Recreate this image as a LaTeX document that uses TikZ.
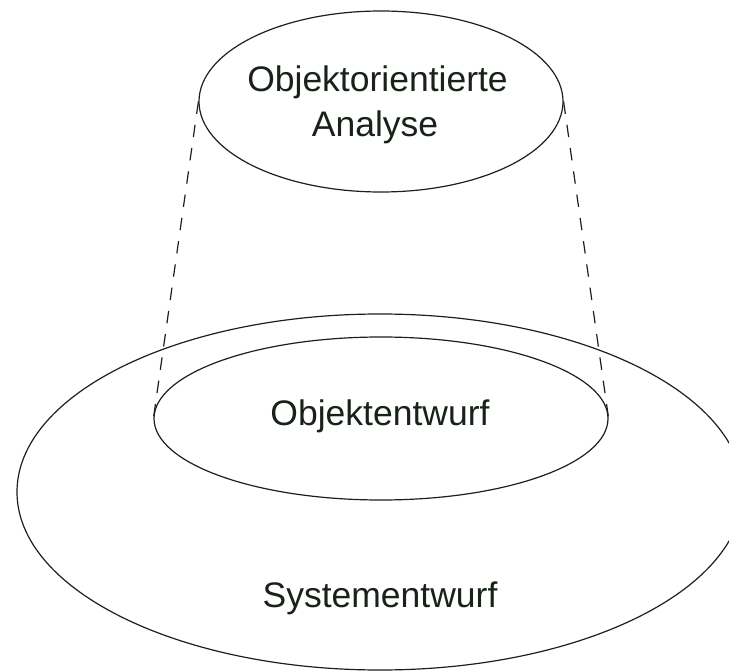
\documentclass[tikz,border=0pt]{standalone}
\usepackage{fontspec}
\setmainfont{Liberation Sans}
\usetikzlibrary{shapes.geometric}
\definecolor{ink}{RGB}{24,34,24}
\begin{document}
\begin{tikzpicture}[x=1pt,y=-1pt,
  oval/.style={draw=ink,line width=1.2pt,ellipse,inner sep=0pt},
  lbl/.style={text=ink,font=\fontsize{35.5}{45}\selectfont,anchor=base,inner sep=0pt},
  guide/.style={draw=ink,line width=1.2pt,dash pattern=on 12.5pt off 11pt}]
\useasboundingbox (0,0) rectangle (729,671);
\node[oval,minimum width=364pt,minimum height=181pt] (oa) at (381,101.5) {};
\node[oval,minimum width=726pt,minimum height=356pt] (sys) at (380,492) {};
\node[oval,minimum width=454pt,minimum height=163pt] (oe) at (381,418.5) {};
\node[lbl] (t1) at (377.5,92) {Objektorientierte};
\node[lbl] (t2) at (375,137) {Analyse};
\node[lbl] (t3) at (380,425) {Objektentwurf};
\node[lbl] (t4) at (380,607) {Systementwurf};
\draw[guide] (oa.west) -- (oe.west);
\draw[guide] (oa.east) -- (oe.east);
\end{tikzpicture}
\end{document}
